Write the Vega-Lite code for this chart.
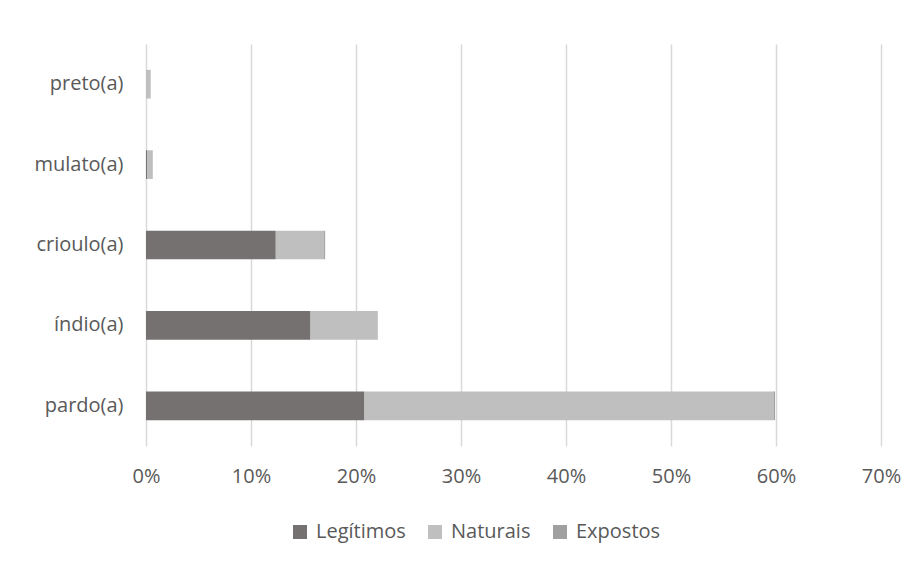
{
  "$schema": "https://vega.github.io/schema/vega-lite/v6.json",
  "width": 735,
  "height": 402,
  "autosize": {"type": "none"},
  "padding": {"left": 146, "top": 44, "right": 38, "bottom": 115},
  "background": "white",
  "config": {
    "font": "Open Sans",
    "view": {"stroke": null},
    "axis": {"labelColor": "#595959", "labelFontSize": 20, "labelFont": "Open Sans"},
    "legend": {"labelColor": "#595959", "labelFontSize": 20, "labelFont": "Open Sans"}
  },
  "data": {
    "values": [
      {"cor": "preto(a)", "filiacao": "Legítimos", "ordem": 1, "pct": 0},
      {"cor": "preto(a)", "filiacao": "Naturais", "ordem": 2, "pct": 0.45},
      {"cor": "preto(a)", "filiacao": "Expostos", "ordem": 3, "pct": 0},
      {"cor": "mulato(a)", "filiacao": "Legítimos", "ordem": 1, "pct": 0.1},
      {"cor": "mulato(a)", "filiacao": "Naturais", "ordem": 2, "pct": 0.55},
      {"cor": "mulato(a)", "filiacao": "Expostos", "ordem": 3, "pct": 0},
      {"cor": "crioulo(a)", "filiacao": "Legítimos", "ordem": 1, "pct": 12.36},
      {"cor": "crioulo(a)", "filiacao": "Naturais", "ordem": 2, "pct": 4.6},
      {"cor": "crioulo(a)", "filiacao": "Expostos", "ordem": 3, "pct": 0.1},
      {"cor": "índio(a)", "filiacao": "Legítimos", "ordem": 1, "pct": 15.67},
      {"cor": "índio(a)", "filiacao": "Naturais", "ordem": 2, "pct": 6.41},
      {"cor": "índio(a)", "filiacao": "Expostos", "ordem": 3, "pct": 0},
      {"cor": "pardo(a)", "filiacao": "Legítimos", "ordem": 1, "pct": 20.81},
      {"cor": "pardo(a)", "filiacao": "Naturais", "ordem": 2, "pct": 38.95},
      {"cor": "pardo(a)", "filiacao": "Expostos", "ordem": 3, "pct": 0.15}
    ]
  },
  "mark": {"type": "bar"},
  "encoding": {
    "y": {
      "field": "cor",
      "type": "nominal",
      "sort": ["preto(a)", "mulato(a)", "crioulo(a)", "índio(a)", "pardo(a)"],
      "scale": {"paddingInner": 0.643, "paddingOuter": 0.3215},
      "axis": {"title": null, "domain": false, "ticks": false, "labelPadding": 23, "grid": false}
    },
    "x": {
      "field": "pct",
      "type": "quantitative",
      "stack": "zero",
      "scale": {"domain": [0, 70], "nice": false},
      "axis": {
        "title": null,
        "values": [0, 10, 20, 30, 40, 50, 60, 70],
        "labelExpr": "datum.value + '%'",
        "domain": false,
        "ticks": false,
        "grid": true,
        "gridColor": "#D9D9D9",
        "gridWidth": 1.5,
        "labelPadding": 20,
        "labelFlush": false
      }
    },
    "color": {
      "field": "filiacao",
      "type": "nominal",
      "scale": {
        "domain": ["Legítimos", "Naturais", "Expostos"],
        "range": ["#767171", "#BFBFBF", "#A0A0A0"]
      },
      "legend": {
        "title": null,
        "orient": "none",
        "direction": "horizontal",
        "legendX": 144,
        "legendY": 478,
        "symbolType": "square",
        "symbolSize": 196,
        "symbolStrokeWidth": 0,
        "symbolOpacity": 1,
        "columnPadding": 19,
        "labelOffset": 6
      }
    },
    "order": {"field": "ordem", "type": "quantitative"}
  }
}
